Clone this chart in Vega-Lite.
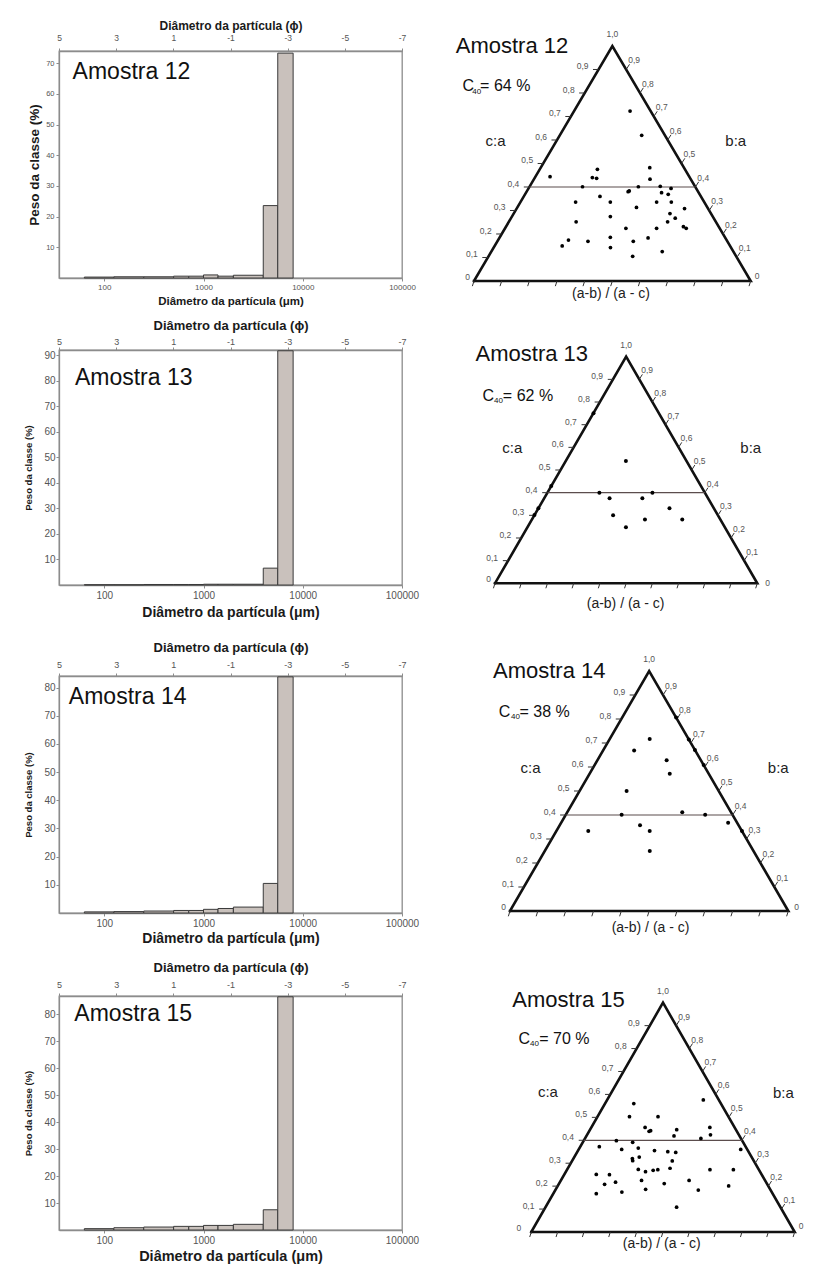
{
"$schema": "https://vega.github.io/schema/vega-lite/v6.json",
"background": "white",
"padding": {"left": 22, "top": 18, "right": 5, "bottom": 5},
"config": {
 "font": "Liberation Sans",
 "view": {"stroke": "#8c8c8c", "strokeWidth": 1.3},
 "axis": {"grid": false, "labelOverlap": false, "domainColor": "#8c8c8c", "domainWidth": 1.3, "tickColor": "#8c8c8c", "labelColor": "#555555", "titleColor": "#1a1a1a", "labelFont": "Liberation Sans", "titleFont": "Liberation Sans"},
 "text": {"font": "Liberation Sans"}
},
"datasets": {
 "hist": [
  {"a":12,"lo":63,"hi":125,"peso":0.3},{"a":12,"lo":125,"hi":250,"peso":0.4},{"a":12,"lo":250,"hi":500,"peso":0.4},{"a":12,"lo":500,"hi":710,"peso":0.6},{"a":12,"lo":710,"hi":1000,"peso":0.6},{"a":12,"lo":1000,"hi":1400,"peso":1.0},{"a":12,"lo":1400,"hi":2000,"peso":0.6},{"a":12,"lo":2000,"hi":4000,"peso":0.9},{"a":12,"lo":4000,"hi":5600,"peso":23.6},{"a":12,"lo":5600,"hi":8000,"peso":73.3},
  {"a":13,"lo":63,"hi":125,"peso":0.1},{"a":13,"lo":125,"hi":250,"peso":0.1},{"a":13,"lo":250,"hi":500,"peso":0.2},{"a":13,"lo":500,"hi":710,"peso":0.2},{"a":13,"lo":710,"hi":1000,"peso":0.2},{"a":13,"lo":1000,"hi":1400,"peso":0.3},{"a":13,"lo":1400,"hi":2000,"peso":0.3},{"a":13,"lo":2000,"hi":4000,"peso":0.3},{"a":13,"lo":4000,"hi":5600,"peso":6.6},{"a":13,"lo":5600,"hi":8000,"peso":91.7},
  {"a":14,"lo":63,"hi":125,"peso":0.4},{"a":14,"lo":125,"hi":250,"peso":0.5},{"a":14,"lo":250,"hi":500,"peso":0.7},{"a":14,"lo":500,"hi":710,"peso":0.9},{"a":14,"lo":710,"hi":1000,"peso":0.9},{"a":14,"lo":1000,"hi":1400,"peso":1.3},{"a":14,"lo":1400,"hi":2000,"peso":1.6},{"a":14,"lo":2000,"hi":4000,"peso":2.1},{"a":14,"lo":4000,"hi":5600,"peso":10.5},{"a":14,"lo":5600,"hi":8000,"peso":83.8},
  {"a":15,"lo":63,"hi":125,"peso":0.5},{"a":15,"lo":125,"hi":250,"peso":0.85},{"a":15,"lo":250,"hi":500,"peso":1.1},{"a":15,"lo":500,"hi":710,"peso":1.35},{"a":15,"lo":710,"hi":1000,"peso":1.35},{"a":15,"lo":1000,"hi":1400,"peso":1.7},{"a":15,"lo":1400,"hi":2000,"peso":1.7},{"a":15,"lo":2000,"hi":4000,"peso":2.1},{"a":15,"lo":4000,"hi":5600,"peso":7.5},{"a":15,"lo":5600,"hi":8000,"peso":86.5}
 ],
 "pts": [
  {"a":12,"ca":0.723,"r":0.731},{"a":12,"ca":0.620,"r":0.779},{"a":12,"ca":0.444,"r":0.095},{"a":12,"ca":0.475,"r":0.397},{"a":12,"ca":0.440,"r":0.371},{"a":12,"ca":0.437,"r":0.399},{"a":12,"ca":0.482,"r":0.761},{"a":12,"ca":0.433,"r":0.740},{"a":12,"ca":0.401,"r":0.320},{"a":12,"ca":0.401,"r":0.657},{"a":12,"ca":0.403,"r":0.790},{"a":12,"ca":0.380,"r":0.592},{"a":12,"ca":0.383,"r":0.599},{"a":12,"ca":0.376,"r":0.785},{"a":12,"ca":0.369,"r":0.820},{"a":12,"ca":0.394,"r":0.850},{"a":12,"ca":0.360,"r":0.430},{"a":12,"ca":0.336,"r":0.300},{"a":12,"ca":0.336,"r":0.489},{"a":12,"ca":0.336,"r":0.741},{"a":12,"ca":0.336,"r":0.821},{"a":12,"ca":0.313,"r":0.627},{"a":12,"ca":0.308,"r":0.877},{"a":12,"ca":0.274,"r":0.490},{"a":12,"ca":0.287,"r":0.792},{"a":12,"ca":0.267,"r":0.810},{"a":12,"ca":0.252,"r":0.325},{"a":12,"ca":0.252,"r":0.767},{"a":12,"ca":0.224,"r":0.563},{"a":12,"ca":0.224,"r":0.706},{"a":12,"ca":0.231,"r":0.834},{"a":12,"ca":0.224,"r":0.844},{"a":12,"ca":0.174,"r":0.308},{"a":12,"ca":0.149,"r":0.287},{"a":12,"ca":0.169,"r":0.394},{"a":12,"ca":0.186,"r":0.491},{"a":12,"ca":0.142,"r":0.492},{"a":12,"ca":0.169,"r":0.591},{"a":12,"ca":0.183,"r":0.658},{"a":12,"ca":0.125,"r":0.706},{"a":12,"ca":0.105,"r":0.582},
  {"a":13,"ca":0.540,"r":0.498},{"a":13,"ca":0.400,"r":0.330},{"a":13,"ca":0.400,"r":0.667},{"a":13,"ca":0.375,"r":0.399},{"a":13,"ca":0.375,"r":0.599},{"a":13,"ca":0.331,"r":0.747},{"a":13,"ca":0.300,"r":0.429},{"a":13,"ca":0.282,"r":0.600},{"a":13,"ca":0.282,"r":0.798},{"a":13,"ca":0.247,"r":0.499},{"a":13,"ca":0.751,"r":0},{"a":13,"ca":0.429,"r":0},{"a":13,"ca":0.331,"r":0},{"a":13,"ca":0.301,"r":0},
  {"a":14,"ca":0.717,"r":0.507},{"a":14,"ca":0.669,"r":0.337},{"a":14,"ca":0.628,"r":0.669},{"a":14,"ca":0.572,"r":0.673},{"a":14,"ca":0.500,"r":0.338},{"a":14,"ca":0.401,"r":0.335},{"a":14,"ca":0.411,"r":0.702},{"a":14,"ca":0.401,"r":0.836},{"a":14,"ca":0.357,"r":0.449},{"a":14,"ca":0.333,"r":0.503},{"a":14,"ca":0.333,"r":0.172},{"a":14,"ca":0.368,"r":0.949},{"a":14,"ca":0.333,"r":1},{"a":14,"ca":0.250,"r":0.503},{"a":14,"ca":0.806,"r":1},{"a":14,"ca":0.715,"r":1},{"a":14,"ca":0.671,"r":1},{"a":14,"ca":0.608,"r":1},
  {"a":15,"ca":0.560,"r":0.248},{"a":15,"ca":0.503,"r":0.244},{"a":15,"ca":0.503,"r":0.462},{"a":15,"ca":0.576,"r":0.861},{"a":15,"ca":0.456,"r":0.375},{"a":15,"ca":0.439,"r":0.406},{"a":15,"ca":0.442,"r":0.416},{"a":15,"ca":0.446,"r":0.594},{"a":15,"ca":0.419,"r":0.572},{"a":15,"ca":0.456,"r":0.827},{"a":15,"ca":0.424,"r":0.813},{"a":15,"ca":0.408,"r":0.743},{"a":15,"ca":0.398,"r":0.206},{"a":15,"ca":0.391,"r":0.311},{"a":15,"ca":0.372,"r":0.115},{"a":15,"ca":0.360,"r":0.255},{"a":15,"ca":0.366,"r":0.352},{"a":15,"ca":0.355,"r":0.450},{"a":15,"ca":0.350,"r":0.528},{"a":15,"ca":0.347,"r":0.574},{"a":15,"ca":0.320,"r":0.329},{"a":15,"ca":0.311,"r":0.333},{"a":15,"ca":0.327,"r":0.366},{"a":15,"ca":0.310,"r":0.551},{"a":15,"ca":0.360,"r":0.961},{"a":15,"ca":0.273,"r":0.371},{"a":15,"ca":0.263,"r":0.410},{"a":15,"ca":0.269,"r":0.449},{"a":15,"ca":0.272,"r":0.473},{"a":15,"ca":0.278,"r":0.537},{"a":15,"ca":0.272,"r":0.745},{"a":15,"ca":0.272,"r":0.867},{"a":15,"ca":0.251,"r":0.162},{"a":15,"ca":0.250,"r":0.229},{"a":15,"ca":0.217,"r":0.270},{"a":15,"ca":0.208,"r":0.220},{"a":15,"ca":0.225,"r":0.395},{"a":15,"ca":0.211,"r":0.506},{"a":15,"ca":0.225,"r":0.628},{"a":15,"ca":0.167,"r":0.196},{"a":15,"ca":0.174,"r":0.311},{"a":15,"ca":0.186,"r":0.419},{"a":15,"ca":0.183,"r":0.664},{"a":15,"ca":0.201,"r":0.812},{"a":15,"ca":0.108,"r":0.558}
 ],
 "tri": [{"k":0,"ca":0,"r":0},{"k":1,"ca":1,"r":0},{"k":2,"ca":0,"r":1},{"k":3,"ca":0,"r":0}],
 "tv": [{"v":0.1,"lab":"0,1"},{"v":0.2,"lab":"0,2"},{"v":0.3,"lab":"0,3"},{"v":0.4,"lab":"0,4"},{"v":0.5,"lab":"0,5"},{"v":0.6,"lab":"0,6"},{"v":0.7,"lab":"0,7"},{"v":0.8,"lab":"0,8"},{"v":0.9,"lab":"0,9"}],
 "bv": [{"v":0},{"v":0.1},{"v":0.2},{"v":0.3},{"v":0.4},{"v":0.5},{"v":0.6},{"v":0.7},{"v":0.8},{"v":0.9},{"v":1}]
},
"concat": [
 {
  "width": 343, "height": 227,
  "layer": [
   {"layer": [
    {"data": {"name": "hist"}, "transform": [{"filter": "datum.a == 12"}],
     "mark": {"type": "rect", "fill": "#c9c1bc", "stroke": "#3a3a3a", "strokeWidth": 1},
     "encoding": {
      "x": {"field": "lo", "type": "quantitative", "scale": {"type": "log", "domain": [35, 100000], "nice": false},
            "axis": {"values": [100,1000,10000,100000], "format": "d", "title": "Diâmetro da partícula (μm)", "titleFontSize": 11.5, "titleFontWeight": "bold", "titleY": 23, "titleBaseline": "middle", "labelFontSize": 8, "tickSize": 3, "labelPadding": 2, "labelFlush": false, "labelOverlap": false}},
      "x2": {"field": "hi"},
      "y": {"field": "peso", "type": "quantitative", "scale": {"domain": [0, 74], "nice": false},
            "axis": {"values": [10,20,30,40,50,60,70], "title": "Peso da classe (%)", "titleFontSize": 13.5, "titleFontWeight": "bold", "titleX": -25, "titleY": 113.5, "titleAngle": -90, "titleAlign": "center", "titleBaseline": "middle", "labelFontSize": 7.5, "tickSize": 3, "labelPadding": 2, "labelOverlap": false}},
      "y2": {"datum": 0}
     }},
    {"data": {"values": [{}]}, "mark": {"type": "text", "text": "Amostra 12", "align": "left", "baseline": "middle", "fontSize": 23, "color": "#111"},
     "encoding": {"x": {"datum": 48, "type": "quantitative", "axis": null}, "y": {"datum": 67, "type": "quantitative", "axis": null}}}
   ],
   "resolve": {"axis": {"x": "independent", "y": "independent"}}},
   {"data": {"values": [{"phi": 5}, {"phi": -7}]}, "mark": {"type": "point", "opacity": 0},
    "encoding": {"x": {"field": "phi", "type": "quantitative", "scale": {"domain": [-7, 5], "reverse": true, "nice": false, "zero": false},
     "axis": {"orient": "top", "values": [5,3,1,-1,-3,-5,-7], "labelExpr": "'' + datum.value", "title": "Diâmetro da partícula (ϕ)", "titleFontSize": 12, "titleFontWeight": "bold", "titleY": -26, "titleBaseline": "middle", "labelFontSize": 8.5, "tickSize": 3, "labelPadding": 6, "labelFlush": false, "labelOverlap": false}}}}
  ],
  "resolve": {"scale": {"x": "independent"}, "axis": {"x": "independent"}}
 },
 {
  "width": 390, "height": 227,
  "view": {"stroke": null},
  "layer": [
   {"data": {"name": "tri"}, "transform": [{"calculate": "datum.ca/2 + datum.r*(1-datum.ca)", "as": "px"}],
    "mark": {"type": "line", "color": "#111", "strokeWidth": 2.6, "strokeJoin": "miter", "strokeCap": "square"},
    "encoding": {"x": {"field": "px", "type": "quantitative", "scale": {"domain": [-0.1988, 1.2107], "nice": false, "zero": false}, "axis": null}, "y": {"field": "ca", "type": "quantitative", "scale": {"domain": [0.0127, 0.9787], "nice": false, "zero": false}, "axis": null}, "order": {"field": "k"}}},
   {"data": {"values": [{}]}, "mark": {"type": "rule", "color": "#5b4d4d", "strokeWidth": 1.2},
    "encoding": {"x": {"datum": 0.2, "type": "quantitative", "scale": {"domain": [-0.1988, 1.2107], "nice": false, "zero": false}, "axis": null}, "x2": {"datum": 0.8}, "y": {"datum": 0.4, "type": "quantitative", "scale": {"domain": [0.0127, 0.9787], "nice": false, "zero": false}, "axis": null}}},
   {"data": {"name": "tv"}, "transform": [{"calculate": "datum.v/2", "as": "px"}, {"calculate": "datum.v/2 - 0.02", "as": "px2"}],
    "mark": {"type": "rule", "color": "#333", "strokeWidth": 1},
    "encoding": {"x": {"field": "px", "type": "quantitative", "scale": {"domain": [-0.1988, 1.2107], "nice": false, "zero": false}, "axis": null}, "x2": {"field": "px2"}, "y": {"field": "v", "type": "quantitative", "scale": {"domain": [0.0127, 0.9787], "nice": false, "zero": false}, "axis": null}}},
   {"data": {"name": "tv"}, "transform": [{"calculate": "datum.v/2", "as": "px"}],
    "mark": {"type": "text", "align": "right", "baseline": "middle", "dx": -10, "dy": -3, "fontSize": 8.5, "color": "#555"},
    "encoding": {"x": {"field": "px", "type": "quantitative", "scale": {"domain": [-0.1988, 1.2107], "nice": false, "zero": false}, "axis": null}, "y": {"field": "v", "type": "quantitative", "scale": {"domain": [0.0127, 0.9787], "nice": false, "zero": false}, "axis": null}, "text": {"field": "lab"}}},
   {"data": {"name": "tv"}, "transform": [{"calculate": "1 - datum.v/2", "as": "px"}, {"calculate": "1 - datum.v/2 + 0.012", "as": "px2"}, {"calculate": "datum.v + 0.022", "as": "py2"}],
    "mark": {"type": "rule", "color": "#333", "strokeWidth": 1},
    "encoding": {"x": {"field": "px", "type": "quantitative", "scale": {"domain": [-0.1988, 1.2107], "nice": false, "zero": false}, "axis": null}, "x2": {"field": "px2"}, "y": {"field": "v", "type": "quantitative", "scale": {"domain": [0.0127, 0.9787], "nice": false, "zero": false}, "axis": null}, "y2": {"field": "py2"}}},
   {"data": {"name": "tv"}, "transform": [{"calculate": "1 - datum.v/2", "as": "px"}],
    "mark": {"type": "text", "align": "left", "baseline": "middle", "dx": 2, "dy": -9, "fontSize": 8.5, "color": "#555"},
    "encoding": {"x": {"field": "px", "type": "quantitative", "scale": {"domain": [-0.1988, 1.2107], "nice": false, "zero": false}, "axis": null}, "y": {"field": "v", "type": "quantitative", "scale": {"domain": [0.0127, 0.9787], "nice": false, "zero": false}, "axis": null}, "text": {"field": "lab"}}},
   {"data": {"name": "bv"}, "transform": [{"calculate": "datum.v - 0.006", "as": "px2"}],
    "mark": {"type": "rule", "color": "#333", "strokeWidth": 1},
    "encoding": {"x": {"field": "v", "type": "quantitative", "scale": {"domain": [-0.1988, 1.2107], "nice": false, "zero": false}, "axis": null}, "x2": {"field": "px2"}, "y": {"datum": 0, "type": "quantitative", "scale": {"domain": [0.0127, 0.9787], "nice": false, "zero": false}, "axis": null}, "y2": {"datum": -0.022}}},
   {"data": {"name": "pts"}, "transform": [{"filter": "datum.a == 12"}, {"calculate": "datum.ca/2 + datum.r*(1-datum.ca)", "as": "px"}],
    "mark": {"type": "circle", "size": 14, "color": "#000", "opacity": 1},
    "encoding": {"x": {"field": "px", "type": "quantitative", "scale": {"domain": [-0.1988, 1.2107], "nice": false, "zero": false}, "axis": null}, "y": {"field": "ca", "type": "quantitative", "scale": {"domain": [0.0127, 0.9787], "nice": false, "zero": false}, "axis": null}}},
   {"data": {"values": [{}]}, "mark": {"type": "text", "text": "Amostra 12", "align": "left", "baseline": "middle", "fontSize": 22, "color": "#111"},
    "encoding": {"x": {"datum": -0.066, "type": "quantitative", "scale": {"domain": [-0.1988, 1.2107], "nice": false, "zero": false}, "axis": null}, "y": {"datum": 1.0, "type": "quantitative", "scale": {"domain": [0.0127, 0.9787], "nice": false, "zero": false}, "axis": null}}},
   {"data": {"values": [{}]}, "mark": {"type": "text", "text": "C", "align": "left", "baseline": "middle", "fontSize": 16, "color": "#111"},
    "encoding": {"x": {"datum": -0.042, "type": "quantitative", "scale": {"domain": [-0.1988, 1.2107], "nice": false, "zero": false}, "axis": null}, "y": {"datum": 0.83, "type": "quantitative", "scale": {"domain": [0.0127, 0.9787], "nice": false, "zero": false}, "axis": null}}},
   {"data": {"values": [{}]}, "mark": {"type": "text", "text": "40", "align": "left", "baseline": "middle", "fontSize": 8, "color": "#111"},
    "encoding": {"x": {"datum": -0.006, "type": "quantitative", "scale": {"domain": [-0.1988, 1.2107], "nice": false, "zero": false}, "axis": null}, "y": {"datum": 0.805, "type": "quantitative", "scale": {"domain": [0.0127, 0.9787], "nice": false, "zero": false}, "axis": null}}},
   {"data": {"values": [{}]}, "mark": {"type": "text", "text": "= 64 %", "align": "left", "baseline": "middle", "fontSize": 16, "color": "#111"},
    "encoding": {"x": {"datum": 0.022, "type": "quantitative", "scale": {"domain": [-0.1988, 1.2107], "nice": false, "zero": false}, "axis": null}, "y": {"datum": 0.83, "type": "quantitative", "scale": {"domain": [0.0127, 0.9787], "nice": false, "zero": false}, "axis": null}}},
   {"data": {"values": [{}]}, "mark": {"type": "text", "text": "c:a", "align": "center", "baseline": "middle", "fontSize": 15, "color": "#222"},
    "encoding": {"x": {"datum": 0.078, "type": "quantitative", "scale": {"domain": [-0.1988, 1.2107], "nice": false, "zero": false}, "axis": null}, "y": {"datum": 0.596, "type": "quantitative", "scale": {"domain": [0.0127, 0.9787], "nice": false, "zero": false}, "axis": null}}},
   {"data": {"values": [{}]}, "mark": {"type": "text", "text": "b:a", "align": "center", "baseline": "middle", "fontSize": 15, "color": "#222"},
    "encoding": {"x": {"datum": 0.946, "type": "quantitative", "scale": {"domain": [-0.1988, 1.2107], "nice": false, "zero": false}, "axis": null}, "y": {"datum": 0.596, "type": "quantitative", "scale": {"domain": [0.0127, 0.9787], "nice": false, "zero": false}, "axis": null}}},
   {"data": {"values": [{}]}, "mark": {"type": "text", "text": "(a-b) / (a - c)", "align": "center", "baseline": "middle", "fontSize": 14, "color": "#222"},
    "encoding": {"x": {"datum": 0.495, "type": "quantitative", "scale": {"domain": [-0.1988, 1.2107], "nice": false, "zero": false}, "axis": null}, "y": {"datum": -0.055, "type": "quantitative", "scale": {"domain": [0.0127, 0.9787], "nice": false, "zero": false}, "axis": null}}},
   {"data": {"values": [{}]}, "mark": {"type": "text", "text": "1,0", "align": "center", "baseline": "middle", "dy": -12, "fontSize": 8.5, "color": "#555"},
    "encoding": {"x": {"datum": 0.5, "type": "quantitative", "scale": {"domain": [-0.1988, 1.2107], "nice": false, "zero": false}, "axis": null}, "y": {"datum": 1, "type": "quantitative", "scale": {"domain": [0.0127, 0.9787], "nice": false, "zero": false}, "axis": null}}},
   {"data": {"values": [{}]}, "mark": {"type": "text", "text": "0", "align": "right", "baseline": "middle", "dx": -4, "dy": -4, "fontSize": 8.5, "color": "#555"},
    "encoding": {"x": {"datum": 0, "type": "quantitative", "scale": {"domain": [-0.1988, 1.2107], "nice": false, "zero": false}, "axis": null}, "y": {"datum": 0, "type": "quantitative", "scale": {"domain": [0.0127, 0.9787], "nice": false, "zero": false}, "axis": null}}},
   {"data": {"values": [{}]}, "mark": {"type": "text", "text": "0", "align": "left", "baseline": "middle", "dx": 4, "dy": -5, "fontSize": 8.5, "color": "#555"},
    "encoding": {"x": {"datum": 1, "type": "quantitative", "scale": {"domain": [-0.1988, 1.2107], "nice": false, "zero": false}, "axis": null}, "y": {"datum": 0, "type": "quantitative", "scale": {"domain": [0.0127, 0.9787], "nice": false, "zero": false}, "axis": null}}}
  ]
 },
 {
  "width": 343, "height": 235,
  "layer": [
   {"layer": [
    {"data": {"name": "hist"}, "transform": [{"filter": "datum.a == 13"}],
     "mark": {"type": "rect", "fill": "#c9c1bc", "stroke": "#3a3a3a", "strokeWidth": 1},
     "encoding": {
      "x": {"field": "lo", "type": "quantitative", "scale": {"type": "log", "domain": [35, 100000], "nice": false},
            "axis": {"values": [100,1000,10000,100000], "format": "d", "title": "Diâmetro da partícula (μm)", "titleFontSize": 14, "titleFontWeight": "bold", "titleY": 27, "titleBaseline": "middle", "labelFontSize": 10, "tickSize": 3, "labelPadding": 2, "labelFlush": false, "labelOverlap": false}},
      "x2": {"field": "hi"},
      "y": {"field": "peso", "type": "quantitative", "scale": {"domain": [0, 92], "nice": false},
            "axis": {"values": [10,20,30,40,50,60,70,80,90], "title": "Peso da classe (%)", "titleFontSize": 9.5, "titleFontWeight": "bold", "titleX": -31, "titleY": 117.5, "titleAngle": -90, "titleAlign": "center", "titleBaseline": "middle", "labelFontSize": 10, "tickSize": 3, "labelPadding": 1, "labelOverlap": false}},
      "y2": {"datum": 0}
     }},
    {"data": {"values": [{}]}, "mark": {"type": "text", "text": "Amostra 13", "align": "left", "baseline": "middle", "fontSize": 23, "color": "#111"},
     "encoding": {"x": {"datum": 50.6, "type": "quantitative", "axis": null}, "y": {"datum": 81.2, "type": "quantitative", "axis": null}}}
   ],
   "resolve": {"axis": {"x": "independent", "y": "independent"}}},
   {"data": {"values": [{"phi": 5}, {"phi": -7}]}, "mark": {"type": "point", "opacity": 0},
    "encoding": {"x": {"field": "phi", "type": "quantitative", "scale": {"domain": [-7, 5], "reverse": true, "nice": false, "zero": false},
     "axis": {"orient": "top", "values": [5,3,1,-1,-3,-5,-7], "labelExpr": "'' + datum.value", "title": "Diâmetro da partícula (ϕ)", "titleFontSize": 13, "titleFontWeight": "bold", "titleY": -25, "titleBaseline": "middle", "labelFontSize": 9, "tickSize": 3, "labelPadding": 1, "labelFlush": false, "labelOverlap": false}}}}
  ],
  "resolve": {"scale": {"x": "independent"}, "axis": {"x": "independent"}}
 },
 {
  "width": 390, "height": 254,
  "view": {"stroke": null},
  "layer": [
   {"data": {"name": "tri"}, "transform": [{"calculate": "datum.ca/2 + datum.r*(1-datum.ca)", "as": "px"}],
    "mark": {"type": "line", "color": "#111", "strokeWidth": 2.6, "strokeJoin": "miter", "strokeCap": "square"},
    "encoding": {"x": {"field": "px", "type": "quantitative", "scale": {"domain": [-0.2897, 1.1972], "nice": false, "zero": false}, "axis": null}, "y": {"field": "ca", "type": "quantitative", "scale": {"domain": [-0.0913, 1.0296], "nice": false, "zero": false}, "axis": null}, "order": {"field": "k"}}},
   {"data": {"values": [{}]}, "mark": {"type": "rule", "color": "#5b4d4d", "strokeWidth": 1.2},
    "encoding": {"x": {"datum": 0.2, "type": "quantitative", "scale": {"domain": [-0.2897, 1.1972], "nice": false, "zero": false}, "axis": null}, "x2": {"datum": 0.8}, "y": {"datum": 0.4, "type": "quantitative", "scale": {"domain": [-0.0913, 1.0296], "nice": false, "zero": false}, "axis": null}}},
   {"data": {"name": "tv"}, "transform": [{"calculate": "datum.v/2", "as": "px"}, {"calculate": "datum.v/2 - 0.02", "as": "px2"}],
    "mark": {"type": "rule", "color": "#333", "strokeWidth": 1},
    "encoding": {"x": {"field": "px", "type": "quantitative", "scale": {"domain": [-0.2897, 1.1972], "nice": false, "zero": false}, "axis": null}, "x2": {"field": "px2"}, "y": {"field": "v", "type": "quantitative", "scale": {"domain": [-0.0913, 1.0296], "nice": false, "zero": false}, "axis": null}}},
   {"data": {"name": "tv"}, "transform": [{"calculate": "datum.v/2", "as": "px"}],
    "mark": {"type": "text", "align": "right", "baseline": "middle", "dx": -10, "dy": -3, "fontSize": 8.5, "color": "#555"},
    "encoding": {"x": {"field": "px", "type": "quantitative", "scale": {"domain": [-0.2897, 1.1972], "nice": false, "zero": false}, "axis": null}, "y": {"field": "v", "type": "quantitative", "scale": {"domain": [-0.0913, 1.0296], "nice": false, "zero": false}, "axis": null}, "text": {"field": "lab"}}},
   {"data": {"name": "tv"}, "transform": [{"calculate": "1 - datum.v/2", "as": "px"}, {"calculate": "1 - datum.v/2 + 0.012", "as": "px2"}, {"calculate": "datum.v + 0.022", "as": "py2"}],
    "mark": {"type": "rule", "color": "#333", "strokeWidth": 1},
    "encoding": {"x": {"field": "px", "type": "quantitative", "scale": {"domain": [-0.2897, 1.1972], "nice": false, "zero": false}, "axis": null}, "x2": {"field": "px2"}, "y": {"field": "v", "type": "quantitative", "scale": {"domain": [-0.0913, 1.0296], "nice": false, "zero": false}, "axis": null}, "y2": {"field": "py2"}}},
   {"data": {"name": "tv"}, "transform": [{"calculate": "1 - datum.v/2", "as": "px"}],
    "mark": {"type": "text", "align": "left", "baseline": "middle", "dx": 2, "dy": -9, "fontSize": 8.5, "color": "#555"},
    "encoding": {"x": {"field": "px", "type": "quantitative", "scale": {"domain": [-0.2897, 1.1972], "nice": false, "zero": false}, "axis": null}, "y": {"field": "v", "type": "quantitative", "scale": {"domain": [-0.0913, 1.0296], "nice": false, "zero": false}, "axis": null}, "text": {"field": "lab"}}},
   {"data": {"name": "bv"}, "transform": [{"calculate": "datum.v - 0.006", "as": "px2"}],
    "mark": {"type": "rule", "color": "#333", "strokeWidth": 1},
    "encoding": {"x": {"field": "v", "type": "quantitative", "scale": {"domain": [-0.2897, 1.1972], "nice": false, "zero": false}, "axis": null}, "x2": {"field": "px2"}, "y": {"datum": 0, "type": "quantitative", "scale": {"domain": [-0.0913, 1.0296], "nice": false, "zero": false}, "axis": null}, "y2": {"datum": -0.022}}},
   {"data": {"name": "pts"}, "transform": [{"filter": "datum.a == 13"}, {"calculate": "datum.ca/2 + datum.r*(1-datum.ca)", "as": "px"}],
    "mark": {"type": "circle", "size": 16, "color": "#000", "opacity": 1},
    "encoding": {"x": {"field": "px", "type": "quantitative", "scale": {"domain": [-0.2897, 1.1972], "nice": false, "zero": false}, "axis": null}, "y": {"field": "ca", "type": "quantitative", "scale": {"domain": [-0.0913, 1.0296], "nice": false, "zero": false}, "axis": null}}},
   {"data": {"values": [{}]}, "mark": {"type": "text", "text": "Amostra 13", "align": "left", "baseline": "middle", "fontSize": 22, "color": "#111"},
    "encoding": {"x": {"datum": -0.074, "type": "quantitative", "scale": {"domain": [-0.2897, 1.1972], "nice": false, "zero": false}, "axis": null}, "y": {"datum": 1.01, "type": "quantitative", "scale": {"domain": [-0.0913, 1.0296], "nice": false, "zero": false}, "axis": null}}},
   {"data": {"values": [{}]}, "mark": {"type": "text", "text": "C", "align": "left", "baseline": "middle", "fontSize": 16, "color": "#111"},
    "encoding": {"x": {"datum": -0.048, "type": "quantitative", "scale": {"domain": [-0.2897, 1.1972], "nice": false, "zero": false}, "axis": null}, "y": {"datum": 0.826, "type": "quantitative", "scale": {"domain": [-0.0913, 1.0296], "nice": false, "zero": false}, "axis": null}}},
   {"data": {"values": [{}]}, "mark": {"type": "text", "text": "40", "align": "left", "baseline": "middle", "fontSize": 8, "color": "#111"},
    "encoding": {"x": {"datum": -0.004, "type": "quantitative", "scale": {"domain": [-0.2897, 1.1972], "nice": false, "zero": false}, "axis": null}, "y": {"datum": 0.803, "type": "quantitative", "scale": {"domain": [-0.0913, 1.0296], "nice": false, "zero": false}, "axis": null}}},
   {"data": {"values": [{}]}, "mark": {"type": "text", "text": "= 62 %", "align": "left", "baseline": "middle", "fontSize": 16, "color": "#111"},
    "encoding": {"x": {"datum": 0.030, "type": "quantitative", "scale": {"domain": [-0.2897, 1.1972], "nice": false, "zero": false}, "axis": null}, "y": {"datum": 0.826, "type": "quantitative", "scale": {"domain": [-0.0913, 1.0296], "nice": false, "zero": false}, "axis": null}}},
   {"data": {"values": [{}]}, "mark": {"type": "text", "text": "c:a", "align": "center", "baseline": "middle", "fontSize": 15, "color": "#222"},
    "encoding": {"x": {"datum": 0.066, "type": "quantitative", "scale": {"domain": [-0.2897, 1.1972], "nice": false, "zero": false}, "axis": null}, "y": {"datum": 0.596, "type": "quantitative", "scale": {"domain": [-0.0913, 1.0296], "nice": false, "zero": false}, "axis": null}}},
   {"data": {"values": [{}]}, "mark": {"type": "text", "text": "b:a", "align": "center", "baseline": "middle", "fontSize": 15, "color": "#222"},
    "encoding": {"x": {"datum": 0.975, "type": "quantitative", "scale": {"domain": [-0.2897, 1.1972], "nice": false, "zero": false}, "axis": null}, "y": {"datum": 0.596, "type": "quantitative", "scale": {"domain": [-0.0913, 1.0296], "nice": false, "zero": false}, "axis": null}}},
   {"data": {"values": [{}]}, "mark": {"type": "text", "text": "(a-b) / (a - c)", "align": "center", "baseline": "middle", "fontSize": 14, "color": "#222"},
    "encoding": {"x": {"datum": 0.498, "type": "quantitative", "scale": {"domain": [-0.2897, 1.1972], "nice": false, "zero": false}, "axis": null}, "y": {"datum": -0.093, "type": "quantitative", "scale": {"domain": [-0.0913, 1.0296], "nice": false, "zero": false}, "axis": null}}},
   {"data": {"values": [{}]}, "mark": {"type": "text", "text": "1,0", "align": "center", "baseline": "middle", "dy": -12, "fontSize": 8.5, "color": "#555"},
    "encoding": {"x": {"datum": 0.5, "type": "quantitative", "scale": {"domain": [-0.2897, 1.1972], "nice": false, "zero": false}, "axis": null}, "y": {"datum": 1, "type": "quantitative", "scale": {"domain": [-0.0913, 1.0296], "nice": false, "zero": false}, "axis": null}}},
   {"data": {"values": [{}]}, "mark": {"type": "text", "text": "0", "align": "right", "baseline": "middle", "dx": -4, "dy": -4, "fontSize": 8.5, "color": "#555"},
    "encoding": {"x": {"datum": 0, "type": "quantitative", "scale": {"domain": [-0.2897, 1.1972], "nice": false, "zero": false}, "axis": null}, "y": {"datum": 0, "type": "quantitative", "scale": {"domain": [-0.0913, 1.0296], "nice": false, "zero": false}, "axis": null}}},
   {"data": {"values": [{}]}, "mark": {"type": "text", "text": "0", "align": "left", "baseline": "middle", "dx": 8, "dy": 0, "fontSize": 8.5, "color": "#555"},
    "encoding": {"x": {"datum": 1, "type": "quantitative", "scale": {"domain": [-0.2897, 1.1972], "nice": false, "zero": false}, "axis": null}, "y": {"datum": 0, "type": "quantitative", "scale": {"domain": [-0.0913, 1.0296], "nice": false, "zero": false}, "axis": null}}}
  ]
 },
 {
  "width": 343, "height": 237,
  "layer": [
   {"layer": [
    {"data": {"name": "hist"}, "transform": [{"filter": "datum.a == 14"}],
     "mark": {"type": "rect", "fill": "#c9c1bc", "stroke": "#3a3a3a", "strokeWidth": 1},
     "encoding": {
      "x": {"field": "lo", "type": "quantitative", "scale": {"type": "log", "domain": [35, 100000], "nice": false},
            "axis": {"values": [100,1000,10000,100000], "format": "d", "title": "Diâmetro da partícula (μm)", "titleFontSize": 14, "titleFontWeight": "bold", "titleY": 25, "titleBaseline": "middle", "labelFontSize": 10, "tickSize": 3, "labelPadding": 2, "labelFlush": false, "labelOverlap": false}},
      "x2": {"field": "hi"},
      "y": {"field": "peso", "type": "quantitative", "scale": {"domain": [0, 84.1], "nice": false},
            "axis": {"values": [10,20,30,40,50,60,70,80], "title": "Peso da classe (%)", "titleFontSize": 9.5, "titleFontWeight": "bold", "titleX": -31, "titleY": 118.5, "titleAngle": -90, "titleAlign": "center", "titleBaseline": "middle", "labelFontSize": 10, "tickSize": 3, "labelPadding": 1, "labelOverlap": false}},
      "y2": {"datum": 0}
     }},
    {"data": {"values": [{}]}, "mark": {"type": "text", "text": "Amostra 14", "align": "left", "baseline": "middle", "fontSize": 23, "color": "#111"},
     "encoding": {"x": {"datum": 44, "type": "quantitative", "axis": null}, "y": {"datum": 76.7, "type": "quantitative", "axis": null}}}
   ],
   "resolve": {"axis": {"x": "independent", "y": "independent"}}},
   {"data": {"values": [{"phi": 5}, {"phi": -7}]}, "mark": {"type": "point", "opacity": 0},
    "encoding": {"x": {"field": "phi", "type": "quantitative", "scale": {"domain": [-7, 5], "reverse": true, "nice": false, "zero": false},
     "axis": {"orient": "top", "values": [5,3,1,-1,-3,-5,-7], "labelExpr": "'' + datum.value", "title": "Diâmetro da partícula (ϕ)", "titleFontSize": 13, "titleFontWeight": "bold", "titleY": -29, "titleBaseline": "middle", "labelFontSize": 9, "tickSize": 3, "labelPadding": 4, "labelFlush": false, "labelOverlap": false}}}}
  ],
  "resolve": {"scale": {"x": "independent"}, "axis": {"x": "independent"}}
 },
 {
  "width": 390, "height": 248,
  "view": {"stroke": null},
  "layer": [
   {"data": {"name": "tri"}, "transform": [{"calculate": "datum.ca/2 + datum.r*(1-datum.ca)", "as": "px"}],
    "mark": {"type": "line", "color": "#111", "strokeWidth": 2.6, "strokeJoin": "miter", "strokeCap": "square"},
    "encoding": {"x": {"field": "px", "type": "quantitative", "scale": {"domain": [-0.3270, 1.0744], "nice": false, "zero": false}, "axis": null}, "y": {"field": "ca", "type": "quantitative", "scale": {"domain": [-0.0541, 0.9792], "nice": false, "zero": false}, "axis": null}, "order": {"field": "k"}}},
   {"data": {"values": [{}]}, "mark": {"type": "rule", "color": "#5b4d4d", "strokeWidth": 1.2},
    "encoding": {"x": {"datum": 0.2, "type": "quantitative", "scale": {"domain": [-0.3270, 1.0744], "nice": false, "zero": false}, "axis": null}, "x2": {"datum": 0.8}, "y": {"datum": 0.4, "type": "quantitative", "scale": {"domain": [-0.0541, 0.9792], "nice": false, "zero": false}, "axis": null}}},
   {"data": {"name": "tv"}, "transform": [{"calculate": "datum.v/2", "as": "px"}, {"calculate": "datum.v/2 - 0.02", "as": "px2"}],
    "mark": {"type": "rule", "color": "#333", "strokeWidth": 1},
    "encoding": {"x": {"field": "px", "type": "quantitative", "scale": {"domain": [-0.3270, 1.0744], "nice": false, "zero": false}, "axis": null}, "x2": {"field": "px2"}, "y": {"field": "v", "type": "quantitative", "scale": {"domain": [-0.0541, 0.9792], "nice": false, "zero": false}, "axis": null}}},
   {"data": {"name": "tv"}, "transform": [{"calculate": "datum.v/2", "as": "px"}],
    "mark": {"type": "text", "align": "right", "baseline": "middle", "dx": -10, "dy": -3, "fontSize": 8.5, "color": "#555"},
    "encoding": {"x": {"field": "px", "type": "quantitative", "scale": {"domain": [-0.3270, 1.0744], "nice": false, "zero": false}, "axis": null}, "y": {"field": "v", "type": "quantitative", "scale": {"domain": [-0.0541, 0.9792], "nice": false, "zero": false}, "axis": null}, "text": {"field": "lab"}}},
   {"data": {"name": "tv"}, "transform": [{"calculate": "1 - datum.v/2", "as": "px"}, {"calculate": "1 - datum.v/2 + 0.012", "as": "px2"}, {"calculate": "datum.v + 0.022", "as": "py2"}],
    "mark": {"type": "rule", "color": "#333", "strokeWidth": 1},
    "encoding": {"x": {"field": "px", "type": "quantitative", "scale": {"domain": [-0.3270, 1.0744], "nice": false, "zero": false}, "axis": null}, "x2": {"field": "px2"}, "y": {"field": "v", "type": "quantitative", "scale": {"domain": [-0.0541, 0.9792], "nice": false, "zero": false}, "axis": null}, "y2": {"field": "py2"}}},
   {"data": {"name": "tv"}, "transform": [{"calculate": "1 - datum.v/2", "as": "px"}],
    "mark": {"type": "text", "align": "left", "baseline": "middle", "dx": 2, "dy": -9, "fontSize": 8.5, "color": "#555"},
    "encoding": {"x": {"field": "px", "type": "quantitative", "scale": {"domain": [-0.3270, 1.0744], "nice": false, "zero": false}, "axis": null}, "y": {"field": "v", "type": "quantitative", "scale": {"domain": [-0.0541, 0.9792], "nice": false, "zero": false}, "axis": null}, "text": {"field": "lab"}}},
   {"data": {"name": "bv"}, "transform": [{"calculate": "datum.v - 0.006", "as": "px2"}],
    "mark": {"type": "rule", "color": "#333", "strokeWidth": 1},
    "encoding": {"x": {"field": "v", "type": "quantitative", "scale": {"domain": [-0.3270, 1.0744], "nice": false, "zero": false}, "axis": null}, "x2": {"field": "px2"}, "y": {"datum": 0, "type": "quantitative", "scale": {"domain": [-0.0541, 0.9792], "nice": false, "zero": false}, "axis": null}, "y2": {"datum": -0.022}}},
   {"data": {"name": "pts"}, "transform": [{"filter": "datum.a == 14"}, {"calculate": "datum.ca/2 + datum.r*(1-datum.ca)", "as": "px"}],
    "mark": {"type": "circle", "size": 16, "color": "#000", "opacity": 1},
    "encoding": {"x": {"field": "px", "type": "quantitative", "scale": {"domain": [-0.3270, 1.0744], "nice": false, "zero": false}, "axis": null}, "y": {"field": "ca", "type": "quantitative", "scale": {"domain": [-0.0541, 0.9792], "nice": false, "zero": false}, "axis": null}}},
   {"data": {"values": [{}]}, "mark": {"type": "text", "text": "Amostra 14", "align": "left", "baseline": "middle", "fontSize": 22, "color": "#111"},
    "encoding": {"x": {"datum": -0.061, "type": "quantitative", "scale": {"domain": [-0.3270, 1.0744], "nice": false, "zero": false}, "axis": null}, "y": {"datum": 1.0, "type": "quantitative", "scale": {"domain": [-0.0541, 0.9792], "nice": false, "zero": false}, "axis": null}}},
   {"data": {"values": [{}]}, "mark": {"type": "text", "text": "C", "align": "left", "baseline": "middle", "fontSize": 16, "color": "#111"},
    "encoding": {"x": {"datum": -0.040, "type": "quantitative", "scale": {"domain": [-0.3270, 1.0744], "nice": false, "zero": false}, "axis": null}, "y": {"datum": 0.831, "type": "quantitative", "scale": {"domain": [-0.0541, 0.9792], "nice": false, "zero": false}, "axis": null}}},
   {"data": {"values": [{}]}, "mark": {"type": "text", "text": "40", "align": "left", "baseline": "middle", "fontSize": 8, "color": "#111"},
    "encoding": {"x": {"datum": 0.004, "type": "quantitative", "scale": {"domain": [-0.3270, 1.0744], "nice": false, "zero": false}, "axis": null}, "y": {"datum": 0.808, "type": "quantitative", "scale": {"domain": [-0.0541, 0.9792], "nice": false, "zero": false}, "axis": null}}},
   {"data": {"values": [{}]}, "mark": {"type": "text", "text": "= 38 %", "align": "left", "baseline": "middle", "fontSize": 16, "color": "#111"},
    "encoding": {"x": {"datum": 0.034, "type": "quantitative", "scale": {"domain": [-0.3270, 1.0744], "nice": false, "zero": false}, "axis": null}, "y": {"datum": 0.831, "type": "quantitative", "scale": {"domain": [-0.0541, 0.9792], "nice": false, "zero": false}, "axis": null}}},
   {"data": {"values": [{}]}, "mark": {"type": "text", "text": "c:a", "align": "center", "baseline": "middle", "fontSize": 15, "color": "#222"},
    "encoding": {"x": {"datum": 0.074, "type": "quantitative", "scale": {"domain": [-0.3270, 1.0744], "nice": false, "zero": false}, "axis": null}, "y": {"datum": 0.597, "type": "quantitative", "scale": {"domain": [-0.0541, 0.9792], "nice": false, "zero": false}, "axis": null}}},
   {"data": {"values": [{}]}, "mark": {"type": "text", "text": "b:a", "align": "center", "baseline": "middle", "fontSize": 15, "color": "#222"},
    "encoding": {"x": {"datum": 0.964, "type": "quantitative", "scale": {"domain": [-0.3270, 1.0744], "nice": false, "zero": false}, "axis": null}, "y": {"datum": 0.597, "type": "quantitative", "scale": {"domain": [-0.0541, 0.9792], "nice": false, "zero": false}, "axis": null}}},
   {"data": {"values": [{}]}, "mark": {"type": "text", "text": "(a-b) / (a - c)", "align": "center", "baseline": "middle", "fontSize": 14, "color": "#222"},
    "encoding": {"x": {"datum": 0.505, "type": "quantitative", "scale": {"domain": [-0.3270, 1.0744], "nice": false, "zero": false}, "axis": null}, "y": {"datum": -0.069, "type": "quantitative", "scale": {"domain": [-0.0541, 0.9792], "nice": false, "zero": false}, "axis": null}}},
   {"data": {"values": [{}]}, "mark": {"type": "text", "text": "1,0", "align": "center", "baseline": "middle", "dy": -12, "fontSize": 8.5, "color": "#555"},
    "encoding": {"x": {"datum": 0.5, "type": "quantitative", "scale": {"domain": [-0.3270, 1.0744], "nice": false, "zero": false}, "axis": null}, "y": {"datum": 1, "type": "quantitative", "scale": {"domain": [-0.0541, 0.9792], "nice": false, "zero": false}, "axis": null}}},
   {"data": {"values": [{}]}, "mark": {"type": "text", "text": "0", "align": "right", "baseline": "middle", "dx": -4, "dy": -4, "fontSize": 8.5, "color": "#555"},
    "encoding": {"x": {"datum": 0, "type": "quantitative", "scale": {"domain": [-0.3270, 1.0744], "nice": false, "zero": false}, "axis": null}, "y": {"datum": 0, "type": "quantitative", "scale": {"domain": [-0.0541, 0.9792], "nice": false, "zero": false}, "axis": null}}},
   {"data": {"values": [{}]}, "mark": {"type": "text", "text": "0", "align": "left", "baseline": "middle", "dx": 6, "dy": -4, "fontSize": 8.5, "color": "#555"},
    "encoding": {"x": {"datum": 1, "type": "quantitative", "scale": {"domain": [-0.3270, 1.0744], "nice": false, "zero": false}, "axis": null}, "y": {"datum": 0, "type": "quantitative", "scale": {"domain": [-0.0541, 0.9792], "nice": false, "zero": false}, "axis": null}}}
  ]
 },
 {
  "width": 343, "height": 234,
  "layer": [
   {"layer": [
    {"data": {"name": "hist"}, "transform": [{"filter": "datum.a == 15"}],
     "mark": {"type": "rect", "fill": "#c9c1bc", "stroke": "#3a3a3a", "strokeWidth": 1},
     "encoding": {
      "x": {"field": "lo", "type": "quantitative", "scale": {"type": "log", "domain": [35, 100000], "nice": false},
            "axis": {"values": [100,1000,10000,100000], "format": "d", "title": "Diâmetro da partícula (μm)", "titleFontSize": 14.5, "titleFontWeight": "bold", "titleY": 26, "titleBaseline": "middle", "labelFontSize": 10, "tickSize": 3, "labelPadding": 2, "labelFlush": false, "labelOverlap": false}},
      "x2": {"field": "hi"},
      "y": {"field": "peso", "type": "quantitative", "scale": {"domain": [0, 86.8], "nice": false},
            "axis": {"values": [10,20,30,40,50,60,70,80], "title": "Peso da classe (%)", "titleFontSize": 9.5, "titleFontWeight": "bold", "titleX": -31, "titleY": 117, "titleAngle": -90, "titleAlign": "center", "titleBaseline": "middle", "labelFontSize": 10, "tickSize": 3, "labelPadding": 1, "labelOverlap": false}},
      "y2": {"datum": 0}
     }},
    {"data": {"values": [{}]}, "mark": {"type": "text", "text": "Amostra 15", "align": "left", "baseline": "middle", "fontSize": 23, "color": "#111"},
     "encoding": {"x": {"datum": 50, "type": "quantitative", "axis": null}, "y": {"datum": 80, "type": "quantitative", "axis": null}}}
   ],
   "resolve": {"axis": {"x": "independent", "y": "independent"}}},
   {"data": {"values": [{"phi": 5}, {"phi": -7}]}, "mark": {"type": "point", "opacity": 0},
    "encoding": {"x": {"field": "phi", "type": "quantitative", "scale": {"domain": [-7, 5], "reverse": true, "nice": false, "zero": false},
     "axis": {"orient": "top", "values": [5,3,1,-1,-3,-5,-7], "labelExpr": "'' + datum.value", "title": "Diâmetro da partícula (ϕ)", "titleFontSize": 13, "titleFontWeight": "bold", "titleY": -29, "titleBaseline": "middle", "labelFontSize": 9, "tickSize": 3, "labelPadding": 4, "labelFlush": false, "labelOverlap": false}}}}
  ],
  "resolve": {"scale": {"x": "independent"}, "axis": {"x": "independent"}}
 },
 {
  "width": 390, "height": 234,
  "view": {"stroke": null},
  "layer": [
   {"data": {"name": "tri"}, "transform": [{"calculate": "datum.ca/2 + datum.r*(1-datum.ca)", "as": "px"}],
    "mark": {"type": "line", "color": "#111", "strokeWidth": 2.6, "strokeJoin": "miter", "strokeCap": "square"},
    "encoding": {"x": {"field": "px", "type": "quantitative", "scale": {"domain": [-0.4263, 1.0543], "nice": false, "zero": false}, "axis": null}, "y": {"field": "ca", "type": "quantitative", "scale": {"domain": [0.0087, 1.0292], "nice": false, "zero": false}, "axis": null}, "order": {"field": "k"}}},
   {"data": {"values": [{}]}, "mark": {"type": "rule", "color": "#5b4d4d", "strokeWidth": 1.2},
    "encoding": {"x": {"datum": 0.2, "type": "quantitative", "scale": {"domain": [-0.4263, 1.0543], "nice": false, "zero": false}, "axis": null}, "x2": {"datum": 0.8}, "y": {"datum": 0.4, "type": "quantitative", "scale": {"domain": [0.0087, 1.0292], "nice": false, "zero": false}, "axis": null}}},
   {"data": {"name": "tv"}, "transform": [{"calculate": "datum.v/2", "as": "px"}, {"calculate": "datum.v/2 - 0.02", "as": "px2"}],
    "mark": {"type": "rule", "color": "#333", "strokeWidth": 1},
    "encoding": {"x": {"field": "px", "type": "quantitative", "scale": {"domain": [-0.4263, 1.0543], "nice": false, "zero": false}, "axis": null}, "x2": {"field": "px2"}, "y": {"field": "v", "type": "quantitative", "scale": {"domain": [0.0087, 1.0292], "nice": false, "zero": false}, "axis": null}}},
   {"data": {"name": "tv"}, "transform": [{"calculate": "datum.v/2", "as": "px"}],
    "mark": {"type": "text", "align": "right", "baseline": "middle", "dx": -10, "dy": -3, "fontSize": 8.5, "color": "#555"},
    "encoding": {"x": {"field": "px", "type": "quantitative", "scale": {"domain": [-0.4263, 1.0543], "nice": false, "zero": false}, "axis": null}, "y": {"field": "v", "type": "quantitative", "scale": {"domain": [0.0087, 1.0292], "nice": false, "zero": false}, "axis": null}, "text": {"field": "lab"}}},
   {"data": {"name": "tv"}, "transform": [{"calculate": "1 - datum.v/2", "as": "px"}, {"calculate": "1 - datum.v/2 + 0.012", "as": "px2"}, {"calculate": "datum.v + 0.022", "as": "py2"}],
    "mark": {"type": "rule", "color": "#333", "strokeWidth": 1},
    "encoding": {"x": {"field": "px", "type": "quantitative", "scale": {"domain": [-0.4263, 1.0543], "nice": false, "zero": false}, "axis": null}, "x2": {"field": "px2"}, "y": {"field": "v", "type": "quantitative", "scale": {"domain": [0.0087, 1.0292], "nice": false, "zero": false}, "axis": null}, "y2": {"field": "py2"}}},
   {"data": {"name": "tv"}, "transform": [{"calculate": "1 - datum.v/2", "as": "px"}],
    "mark": {"type": "text", "align": "left", "baseline": "middle", "dx": 2, "dy": -9, "fontSize": 8.5, "color": "#555"},
    "encoding": {"x": {"field": "px", "type": "quantitative", "scale": {"domain": [-0.4263, 1.0543], "nice": false, "zero": false}, "axis": null}, "y": {"field": "v", "type": "quantitative", "scale": {"domain": [0.0087, 1.0292], "nice": false, "zero": false}, "axis": null}, "text": {"field": "lab"}}},
   {"data": {"name": "bv"}, "transform": [{"calculate": "datum.v - 0.006", "as": "px2"}],
    "mark": {"type": "rule", "color": "#333", "strokeWidth": 1},
    "encoding": {"x": {"field": "v", "type": "quantitative", "scale": {"domain": [-0.4263, 1.0543], "nice": false, "zero": false}, "axis": null}, "x2": {"field": "px2"}, "y": {"datum": 0, "type": "quantitative", "scale": {"domain": [0.0087, 1.0292], "nice": false, "zero": false}, "axis": null}, "y2": {"datum": -0.022}}},
   {"data": {"name": "pts"}, "transform": [{"filter": "datum.a == 15"}, {"calculate": "datum.ca/2 + datum.r*(1-datum.ca)", "as": "px"}],
    "mark": {"type": "circle", "size": 14, "color": "#000", "opacity": 1},
    "encoding": {"x": {"field": "px", "type": "quantitative", "scale": {"domain": [-0.4263, 1.0543], "nice": false, "zero": false}, "axis": null}, "y": {"field": "ca", "type": "quantitative", "scale": {"domain": [0.0087, 1.0292], "nice": false, "zero": false}, "axis": null}}},
   {"data": {"values": [{}]}, "mark": {"type": "text", "text": "Amostra 15", "align": "left", "baseline": "middle", "fontSize": 22, "color": "#111"},
    "encoding": {"x": {"datum": -0.072, "type": "quantitative", "scale": {"domain": [-0.4263, 1.0543], "nice": false, "zero": false}, "axis": null}, "y": {"datum": 1.012, "type": "quantitative", "scale": {"domain": [0.0087, 1.0292], "nice": false, "zero": false}, "axis": null}}},
   {"data": {"values": [{}]}, "mark": {"type": "text", "text": "C", "align": "left", "baseline": "middle", "fontSize": 16, "color": "#111"},
    "encoding": {"x": {"datum": -0.049, "type": "quantitative", "scale": {"domain": [-0.4263, 1.0543], "nice": false, "zero": false}, "axis": null}, "y": {"datum": 0.840, "type": "quantitative", "scale": {"domain": [0.0087, 1.0292], "nice": false, "zero": false}, "axis": null}}},
   {"data": {"values": [{}]}, "mark": {"type": "text", "text": "40", "align": "left", "baseline": "middle", "fontSize": 8, "color": "#111"},
    "encoding": {"x": {"datum": -0.005, "type": "quantitative", "scale": {"domain": [-0.4263, 1.0543], "nice": false, "zero": false}, "axis": null}, "y": {"datum": 0.818, "type": "quantitative", "scale": {"domain": [0.0087, 1.0292], "nice": false, "zero": false}, "axis": null}}},
   {"data": {"values": [{}]}, "mark": {"type": "text", "text": "= 70 %", "align": "left", "baseline": "middle", "fontSize": 16, "color": "#111"},
    "encoding": {"x": {"datum": 0.030, "type": "quantitative", "scale": {"domain": [-0.4263, 1.0543], "nice": false, "zero": false}, "axis": null}, "y": {"datum": 0.840, "type": "quantitative", "scale": {"domain": [0.0087, 1.0292], "nice": false, "zero": false}, "axis": null}}},
   {"data": {"values": [{}]}, "mark": {"type": "text", "text": "c:a", "align": "center", "baseline": "middle", "fontSize": 15, "color": "#222"},
    "encoding": {"x": {"datum": 0.063, "type": "quantitative", "scale": {"domain": [-0.4263, 1.0543], "nice": false, "zero": false}, "axis": null}, "y": {"datum": 0.612, "type": "quantitative", "scale": {"domain": [0.0087, 1.0292], "nice": false, "zero": false}, "axis": null}}},
   {"data": {"values": [{}]}, "mark": {"type": "text", "text": "b:a", "align": "center", "baseline": "middle", "fontSize": 15, "color": "#222"},
    "encoding": {"x": {"datum": 0.957, "type": "quantitative", "scale": {"domain": [-0.4263, 1.0543], "nice": false, "zero": false}, "axis": null}, "y": {"datum": 0.608, "type": "quantitative", "scale": {"domain": [0.0087, 1.0292], "nice": false, "zero": false}, "axis": null}}},
   {"data": {"values": [{}]}, "mark": {"type": "text", "text": "(a-b) / (a - c)", "align": "center", "baseline": "middle", "fontSize": 14, "color": "#222"},
    "encoding": {"x": {"datum": 0.495, "type": "quantitative", "scale": {"domain": [-0.4263, 1.0543], "nice": false, "zero": false}, "axis": null}, "y": {"datum": -0.054, "type": "quantitative", "scale": {"domain": [0.0087, 1.0292], "nice": false, "zero": false}, "axis": null}}},
   {"data": {"values": [{}]}, "mark": {"type": "text", "text": "1,0", "align": "center", "baseline": "middle", "dy": -12, "fontSize": 8.5, "color": "#555"},
    "encoding": {"x": {"datum": 0.5, "type": "quantitative", "scale": {"domain": [-0.4263, 1.0543], "nice": false, "zero": false}, "axis": null}, "y": {"datum": 1, "type": "quantitative", "scale": {"domain": [0.0087, 1.0292], "nice": false, "zero": false}, "axis": null}}},
   {"data": {"values": [{}]}, "mark": {"type": "text", "text": "0", "align": "right", "baseline": "middle", "dx": -10, "dy": -4, "fontSize": 8.5, "color": "#555"},
    "encoding": {"x": {"datum": 0, "type": "quantitative", "scale": {"domain": [-0.4263, 1.0543], "nice": false, "zero": false}, "axis": null}, "y": {"datum": 0, "type": "quantitative", "scale": {"domain": [0.0087, 1.0292], "nice": false, "zero": false}, "axis": null}}},
   {"data": {"values": [{}]}, "mark": {"type": "text", "text": "0", "align": "left", "baseline": "middle", "dx": 4, "dy": -6, "fontSize": 8.5, "color": "#555"},
    "encoding": {"x": {"datum": 1, "type": "quantitative", "scale": {"domain": [-0.4263, 1.0543], "nice": false, "zero": false}, "axis": null}, "y": {"datum": 0, "type": "quantitative", "scale": {"domain": [0.0087, 1.0292], "nice": false, "zero": false}, "axis": null}}}
  ]
 }
],
"columns": 2,
"spacing": {"row": 72, "column": 17},
"bounds": "flush",
"align": "each"
}
